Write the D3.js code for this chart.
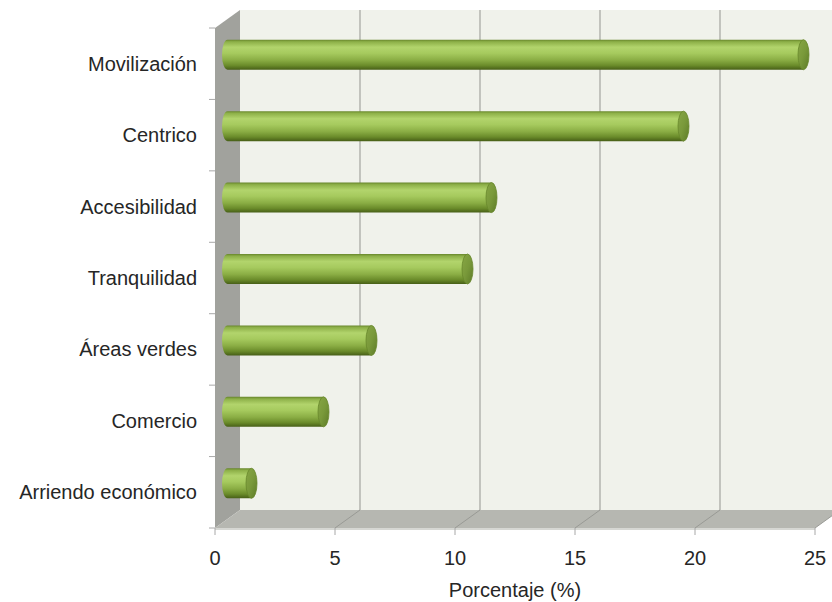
<!DOCTYPE html>
<html>
<head>
<meta charset="utf-8">
<script src="https://cdn.jsdelivr.net/npm/d3@7"></script>
<style>
  html, body { margin: 0; padding: 0; background: #ffffff; }
  svg { display: block; }
  text { font-family: "Liberation Sans", Arial, sans-serif; fill: #262626; }
</style>
</head>
<body>
<svg id="chart" width="832" height="602"></svg>
<script>
// Motivos de elección de la vivienda (porcentaje)
const categories = ["Movilización", "Centrico", "Accesibilidad", "Tranquilidad", "Áreas verdes", "Comercio", "Arriendo económico"];
const values = [24, 19, 11, 10, 6, 4, 1];
const xTicks = [0, 5, 10, 15, 20, 25];
const xTitle = "Porcentaje (%)";

const svg = d3.select("#chart");

// Front plane scales; the back wall is shifted by a fixed depth offset
const x = d3.scaleLinear().domain([0, 25]).range([215, 815]);
const y = d3.scaleBand().domain(categories).range([28, 528]);
const depthX = 25, depthY = -18;
const plotBottom = y.range()[1], plotTop = y.range()[0];

const defs = svg.append("defs");

// Cylinder body shading (top to bottom)
const body = defs.append("linearGradient").attr("id", "cylBody")
  .attr("x1", 0).attr("y1", 0).attr("x2", 0).attr("y2", 1);
[[0, "#67862b"], [0.07, "#8db048"], [0.25, "#b2d46c"], [0.45, "#a6ca5e"],
 [0.68, "#8aad44"], [0.86, "#6a8b2a"], [1, "#475f17"]]
  .forEach(([o, c]) => body.append("stop").attr("offset", o).attr("stop-color", c));

// End cap shading
const cap = defs.append("linearGradient").attr("id", "cylCap")
  .attr("x1", 0).attr("y1", 0).attr("x2", 1).attr("y2", 1);
[[0, "#87a645"], [0.5, "#79993a"], [1, "#5d7b27"]]
  .forEach(([o, c]) => cap.append("stop").attr("offset", o).attr("stop-color", c));

// Back wall
svg.append("rect")
  .attr("x", x(0) + depthX).attr("y", plotTop + depthY)
  .attr("width", x(25) - x(0) + 10).attr("height", plotBottom - plotTop)
  .attr("fill", "#f0f2eb");

// Side wall
svg.append("path")
  .attr("d", d3.line()([[x(0), plotTop], [x(0) + depthX, plotTop + depthY],
                        [x(0) + depthX, plotBottom + depthY], [x(0), plotBottom]]) + "Z")
  .attr("fill", "#a1a29d");

// Floor
svg.append("path")
  .attr("d", d3.line()([[x(0), plotBottom], [x(0) + depthX, plotBottom + depthY],
                        [x(25) + depthX, plotBottom + depthY], [x(25), plotBottom]]) + "Z")
  .attr("fill", "#b6b7b1");
svg.append("line")
  .attr("x1", x(0)).attr("x2", x(25))
  .attr("y1", plotBottom + 1).attr("y2", plotBottom + 1)
  .attr("stroke", "#d6d7d3").attr("stroke-width", 2);

// Grid lines on the back wall and across the floor
const gridVals = xTicks.filter(v => v > 0);
svg.append("g").selectAll("line").data(gridVals.filter(v => v < 25)).join("line")
  .attr("x1", d => x(d) + depthX).attr("x2", d => x(d) + depthX)
  .attr("y1", plotTop + depthY).attr("y2", plotBottom + depthY)
  .attr("stroke", "#a3a49f").attr("stroke-width", 1.2);
svg.append("g").selectAll("line").data(gridVals).join("line")
  .attr("x1", d => x(d)).attr("x2", d => x(d) + depthX)
  .attr("y1", plotBottom).attr("y2", plotBottom + depthY)
  .attr("stroke", "#999a95").attr("stroke-width", 1);

// Axis ticks
svg.append("g").selectAll("line").data(xTicks).join("line")
  .attr("x1", d => x(d)).attr("x2", d => x(d))
  .attr("y1", plotBottom).attr("y2", plotBottom + 7)
  .attr("stroke", "#a8a8a8");
const bounds = categories.map(c => y(c)).concat([plotBottom]);
svg.append("g").selectAll("line").data(bounds).join("line")
  .attr("x1", x(0) - 6).attr("x2", x(0))
  .attr("y1", d => d).attr("y2", d => d)
  .attr("stroke", "#a8a8a8");

// Cylinders
const barH = y.bandwidth() * 0.42;
const r = barH / 2, rx = 5.5;
const bars = svg.append("g").selectAll("g").data(categories.map((c, i) => ({ c, v: values[i] }))).join("g");
bars.each(function (d) {
  const g = d3.select(this);
  const cy = y(d.c) + y.bandwidth() / 2 + depthY / 2;
  const x0 = x(0) + depthX / 2, x1 = x(d.v) + depthX / 2;
  const p = d3.path();
  p.moveTo(x0, cy - r);
  p.lineTo(x1, cy - r);
  p.lineTo(x1, cy + r);
  p.lineTo(x0, cy + r);
  g.append("path")
    .attr("d", p.toString() + ` A ${rx} ${r} 0 0 1 ${x0} ${cy - r} Z`)
    .attr("fill", "url(#cylBody)");
  g.append("ellipse")
    .attr("cx", x1).attr("cy", cy).attr("rx", rx).attr("ry", r)
    .attr("fill", "url(#cylCap)")
    .attr("stroke", "#67862b").attr("stroke-width", 0.8);
});

// Category labels
svg.append("g").selectAll("text").data(categories).join("text")
  .attr("x", 197)
  .attr("y", d => y(d) + y.bandwidth() / 2 + 7)
  .attr("text-anchor", "end")
  .attr("font-size", 20)
  .text(d => d);

// Value axis labels
svg.append("g").selectAll("text").data(xTicks).join("text")
  .attr("x", d => x(d))
  .attr("y", 565)
  .attr("text-anchor", "middle")
  .attr("font-size", 20)
  .text(d => d);

svg.append("text")
  .attr("x", 515).attr("y", 597)
  .attr("text-anchor", "middle")
  .attr("font-size", 20)
  .text(xTitle);
</script>
</body>
</html>
